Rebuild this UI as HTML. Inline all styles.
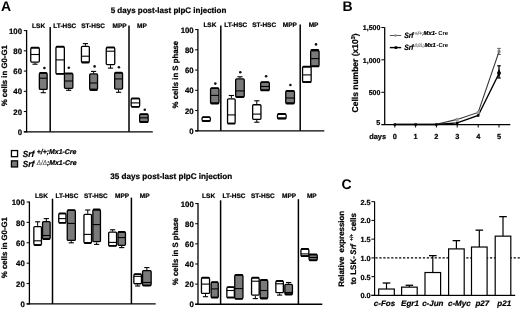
<!DOCTYPE html>
<html><head><meta charset="utf-8"><style>
html,body{margin:0;padding:0;background:#fff;}
body{width:520px;height:310px;overflow:hidden;}
svg{display:block;font-family:"Liberation Sans", sans-serif;filter:grayscale(1);text-rendering:geometricPrecision;}
</style></head><body>
<svg width="520" height="310" viewBox="0 0 520 310">
<rect width="520" height="310" fill="#fff"/>
<text x="1.10" y="11.10" font-size="14" text-anchor="start" font-weight="bold" font-style="normal" fill="#000" stroke="#000" stroke-width="0" >A</text>
<text x="110.70" y="13.10" font-size="8" text-anchor="start" font-weight="bold" font-style="normal" fill="#000" stroke="#000" stroke-width="0.22" >5 days post-last pIpC injection</text>
<text x="110.30" y="179.20" font-size="8.15" text-anchor="start" font-weight="bold" font-style="normal" fill="#000" stroke="#000" stroke-width="0.22" >35 days post-last pIpC injection</text>
<line x1="26.60" y1="30.10" x2="26.60" y2="132.30" stroke="#000" stroke-width="1.3" />
<line x1="23.80" y1="131.80" x2="26.60" y2="131.80" stroke="#000" stroke-width="1.0" />
<text x="22.00" y="134.95" font-size="7.8" text-anchor="end" font-weight="bold" font-style="normal" fill="#000" stroke="#000" stroke-width="0.22" >0</text>
<line x1="23.80" y1="111.56" x2="26.60" y2="111.56" stroke="#000" stroke-width="1.0" />
<text x="22.00" y="114.71" font-size="7.8" text-anchor="end" font-weight="bold" font-style="normal" fill="#000" stroke="#000" stroke-width="0.22" >20</text>
<line x1="23.80" y1="91.32" x2="26.60" y2="91.32" stroke="#000" stroke-width="1.0" />
<text x="22.00" y="94.47" font-size="7.8" text-anchor="end" font-weight="bold" font-style="normal" fill="#000" stroke="#000" stroke-width="0.22" >40</text>
<line x1="23.80" y1="71.08" x2="26.60" y2="71.08" stroke="#000" stroke-width="1.0" />
<text x="22.00" y="74.23" font-size="7.8" text-anchor="end" font-weight="bold" font-style="normal" fill="#000" stroke="#000" stroke-width="0.22" >60</text>
<line x1="23.80" y1="50.84" x2="26.60" y2="50.84" stroke="#000" stroke-width="1.0" />
<text x="22.00" y="53.99" font-size="7.8" text-anchor="end" font-weight="bold" font-style="normal" fill="#000" stroke="#000" stroke-width="0.22" >80</text>
<line x1="23.80" y1="30.60" x2="26.60" y2="30.60" stroke="#000" stroke-width="1.0" />
<text x="22.00" y="33.75" font-size="7.8" text-anchor="end" font-weight="bold" font-style="normal" fill="#000" stroke="#000" stroke-width="0.22" >100</text>
<line x1="23.80" y1="131.80" x2="152.80" y2="131.80" stroke="#000" stroke-width="1.3" />
<line x1="50.20" y1="27.00" x2="50.20" y2="131.80" stroke="#000" stroke-width="1.5" />
<line x1="129.00" y1="25.50" x2="129.00" y2="131.80" stroke="#000" stroke-width="1.5" />
<text x="38.60" y="28.00" font-size="6.5" text-anchor="middle" font-weight="bold" font-style="normal" fill="#000" stroke="#000" stroke-width="0.22" >LSK</text>
<text x="64.80" y="28.00" font-size="6.5" text-anchor="middle" font-weight="bold" font-style="normal" fill="#000" stroke="#000" stroke-width="0.22" >LT-HSC</text>
<text x="93.10" y="28.00" font-size="6.5" text-anchor="middle" font-weight="bold" font-style="normal" fill="#000" stroke="#000" stroke-width="0.22" >ST-HSC</text>
<text x="119.60" y="28.00" font-size="6.5" text-anchor="middle" font-weight="bold" font-style="normal" fill="#000" stroke="#000" stroke-width="0.22" >MPP</text>
<text x="141.90" y="28.00" font-size="6.5" text-anchor="middle" font-weight="bold" font-style="normal" fill="#000" stroke="#000" stroke-width="0.22" >MP</text>
<line x1="35.05" y1="62.70" x2="35.05" y2="64.20" stroke="#000" stroke-width="1.0" />
<line x1="32.45" y1="64.20" x2="37.65" y2="64.20" stroke="#000" stroke-width="1.1" />
<rect x="30.75" y="47.95" width="8.60" height="14.10" rx="1" fill="#fff" stroke="#000" stroke-width="1.3"/>
<rect x="30.60" y="46.80" width="8.90" height="1.80" rx="1.3" fill="#000"/>
<line x1="30.70" y1="54.50" x2="39.40" y2="54.50" stroke="#000" stroke-width="1.1" />
<line x1="43.25" y1="90.10" x2="43.25" y2="92.70" stroke="#000" stroke-width="1.0" />
<line x1="40.65" y1="92.70" x2="45.85" y2="92.70" stroke="#000" stroke-width="1.1" />
<rect x="39.35" y="73.15" width="7.80" height="16.30" rx="1" fill="#7a7a7a" stroke="#000" stroke-width="1.3"/>
<rect x="39.20" y="72.00" width="8.10" height="1.80" rx="1.3" fill="#000"/>
<line x1="39.30" y1="78.20" x2="47.20" y2="78.20" stroke="#000" stroke-width="1.1" />
<rect x="55.95" y="46.95" width="8.40" height="26.70" rx="1" fill="#fff" stroke="#000" stroke-width="1.3"/>
<rect x="55.80" y="45.80" width="8.70" height="1.80" rx="1.3" fill="#000"/>
<rect x="55.80" y="73.00" width="8.70" height="1.80" rx="1.3" fill="#000"/>
<line x1="55.90" y1="59.90" x2="64.40" y2="59.90" stroke="#000" stroke-width="1.1" />
<line x1="68.65" y1="89.00" x2="68.65" y2="90.30" stroke="#000" stroke-width="1.0" />
<line x1="66.05" y1="90.30" x2="71.25" y2="90.30" stroke="#000" stroke-width="1.1" />
<rect x="64.45" y="73.55" width="8.40" height="14.80" rx="1" fill="#7a7a7a" stroke="#000" stroke-width="1.3"/>
<rect x="64.30" y="72.40" width="8.70" height="1.80" rx="1.3" fill="#000"/>
<line x1="64.40" y1="81.00" x2="72.90" y2="81.00" stroke="#000" stroke-width="1.1" />
<line x1="85.40" y1="43.60" x2="85.40" y2="45.80" stroke="#000" stroke-width="1.0" />
<line x1="82.80" y1="43.60" x2="88.00" y2="43.60" stroke="#000" stroke-width="1.1" />
<rect x="81.45" y="46.45" width="7.90" height="15.80" rx="1" fill="#fff" stroke="#000" stroke-width="1.3"/>
<rect x="81.30" y="61.60" width="8.20" height="2.00" rx="1.3" fill="#000"/>
<line x1="81.40" y1="56.20" x2="89.40" y2="56.20" stroke="#000" stroke-width="1.1" />
<line x1="93.60" y1="71.40" x2="93.60" y2="73.30" stroke="#000" stroke-width="1.0" />
<line x1="91.00" y1="71.40" x2="96.20" y2="71.40" stroke="#000" stroke-width="1.1" />
<rect x="89.65" y="73.95" width="7.90" height="15.50" rx="1" fill="#7a7a7a" stroke="#000" stroke-width="1.3"/>
<rect x="89.50" y="88.80" width="8.20" height="2.30" rx="1.3" fill="#000"/>
<line x1="89.60" y1="83.00" x2="97.60" y2="83.00" stroke="#000" stroke-width="1.1" />
<line x1="110.50" y1="65.20" x2="110.50" y2="68.10" stroke="#000" stroke-width="1.0" />
<line x1="107.90" y1="68.10" x2="113.10" y2="68.10" stroke="#000" stroke-width="1.1" />
<rect x="106.25" y="47.65" width="8.50" height="16.90" rx="1" fill="#fff" stroke="#000" stroke-width="1.3"/>
<rect x="106.10" y="46.50" width="8.80" height="1.80" rx="1.3" fill="#000"/>
<line x1="106.20" y1="51.20" x2="114.80" y2="51.20" stroke="#000" stroke-width="1.1" />
<line x1="118.60" y1="89.70" x2="118.60" y2="92.30" stroke="#000" stroke-width="1.0" />
<line x1="116.00" y1="92.30" x2="121.20" y2="92.30" stroke="#000" stroke-width="1.1" />
<rect x="114.65" y="72.85" width="7.90" height="16.20" rx="1" fill="#7a7a7a" stroke="#000" stroke-width="1.3"/>
<rect x="114.50" y="71.70" width="8.20" height="1.80" rx="1.3" fill="#000"/>
<line x1="114.60" y1="78.90" x2="122.60" y2="78.90" stroke="#000" stroke-width="1.1" />
<rect x="131.15" y="98.65" width="8.50" height="7.90" rx="1" fill="#fff" stroke="#000" stroke-width="1.3"/>
<rect x="131.00" y="97.50" width="8.80" height="1.80" rx="1.3" fill="#000"/>
<rect x="131.00" y="105.90" width="8.80" height="1.80" rx="1.3" fill="#000"/>
<line x1="131.10" y1="102.90" x2="139.70" y2="102.90" stroke="#000" stroke-width="1.1" />
<rect x="139.65" y="114.35" width="8.50" height="7.60" rx="1" fill="#7a7a7a" stroke="#000" stroke-width="1.3"/>
<rect x="139.50" y="113.20" width="8.80" height="1.80" rx="1.3" fill="#000"/>
<rect x="139.50" y="121.30" width="8.80" height="1.80" rx="1.3" fill="#000"/>
<line x1="139.60" y1="117.80" x2="148.20" y2="117.80" stroke="#000" stroke-width="1.1" />
<circle cx="44.40" cy="68.00" r="1.3" fill="#111"/>
<circle cx="68.80" cy="67.70" r="1.3" fill="#111"/>
<circle cx="94.60" cy="66.40" r="1.3" fill="#111"/>
<circle cx="118.90" cy="67.30" r="1.3" fill="#111"/>
<circle cx="144.80" cy="109.70" r="1.3" fill="#111"/>
<text transform="translate(7.30,75.70) rotate(-90)" x="0" y="0" font-size="7.8" text-anchor="middle" font-weight="bold" stroke="#000" stroke-width="0.22">% cells in G0-G1</text>
<line x1="197.90" y1="29.10" x2="197.90" y2="131.30" stroke="#000" stroke-width="1.3" />
<line x1="195.10" y1="130.80" x2="197.90" y2="130.80" stroke="#000" stroke-width="1.0" />
<text x="193.70" y="133.95" font-size="7.8" text-anchor="end" font-weight="bold" font-style="normal" fill="#000" stroke="#000" stroke-width="0.22" >0</text>
<line x1="195.10" y1="110.56" x2="197.90" y2="110.56" stroke="#000" stroke-width="1.0" />
<text x="193.70" y="113.71" font-size="7.8" text-anchor="end" font-weight="bold" font-style="normal" fill="#000" stroke="#000" stroke-width="0.22" >20</text>
<line x1="195.10" y1="90.32" x2="197.90" y2="90.32" stroke="#000" stroke-width="1.0" />
<text x="193.70" y="93.47" font-size="7.8" text-anchor="end" font-weight="bold" font-style="normal" fill="#000" stroke="#000" stroke-width="0.22" >40</text>
<line x1="195.10" y1="70.08" x2="197.90" y2="70.08" stroke="#000" stroke-width="1.0" />
<text x="193.70" y="73.23" font-size="7.8" text-anchor="end" font-weight="bold" font-style="normal" fill="#000" stroke="#000" stroke-width="0.22" >60</text>
<line x1="195.10" y1="49.84" x2="197.90" y2="49.84" stroke="#000" stroke-width="1.0" />
<text x="193.70" y="52.99" font-size="7.8" text-anchor="end" font-weight="bold" font-style="normal" fill="#000" stroke="#000" stroke-width="0.22" >80</text>
<line x1="195.10" y1="29.60" x2="197.90" y2="29.60" stroke="#000" stroke-width="1.0" />
<text x="193.70" y="32.75" font-size="7.8" text-anchor="end" font-weight="bold" font-style="normal" fill="#000" stroke="#000" stroke-width="0.22" >100</text>
<line x1="195.10" y1="130.80" x2="324.30" y2="130.80" stroke="#000" stroke-width="1.3" />
<line x1="220.80" y1="25.50" x2="220.80" y2="130.80" stroke="#000" stroke-width="1.5" />
<line x1="300.20" y1="24.40" x2="300.20" y2="130.80" stroke="#000" stroke-width="1.5" />
<text x="209.90" y="27.10" font-size="6.5" text-anchor="middle" font-weight="bold" font-style="normal" fill="#000" stroke="#000" stroke-width="0.22" >LSK</text>
<text x="235.80" y="27.10" font-size="6.5" text-anchor="middle" font-weight="bold" font-style="normal" fill="#000" stroke="#000" stroke-width="0.22" >LT-HSC</text>
<text x="264.20" y="27.10" font-size="6.5" text-anchor="middle" font-weight="bold" font-style="normal" fill="#000" stroke="#000" stroke-width="0.22" >ST-HSC</text>
<text x="289.80" y="27.10" font-size="6.5" text-anchor="middle" font-weight="bold" font-style="normal" fill="#000" stroke="#000" stroke-width="0.22" >MPP</text>
<text x="313.50" y="27.10" font-size="6.5" text-anchor="middle" font-weight="bold" font-style="normal" fill="#000" stroke="#000" stroke-width="0.22" >MP</text>
<rect x="202.05" y="117.35" width="8.30" height="3.50" rx="1" fill="#fff" stroke="#000" stroke-width="1.3"/>
<rect x="201.90" y="116.20" width="8.60" height="1.80" rx="1.3" fill="#000"/>
<rect x="201.90" y="120.20" width="8.60" height="1.80" rx="1.3" fill="#000"/>
<line x1="202.00" y1="121.00" x2="210.40" y2="121.00" stroke="#000" stroke-width="1.1" />
<rect x="210.55" y="88.45" width="8.40" height="14.80" rx="1" fill="#7a7a7a" stroke="#000" stroke-width="1.3"/>
<rect x="210.40" y="87.30" width="8.70" height="1.80" rx="1.3" fill="#000"/>
<rect x="210.40" y="102.60" width="8.70" height="1.80" rx="1.3" fill="#000"/>
<line x1="210.50" y1="95.40" x2="219.00" y2="95.40" stroke="#000" stroke-width="1.1" />
<line x1="231.35" y1="95.50" x2="231.35" y2="98.20" stroke="#000" stroke-width="1.0" />
<line x1="228.75" y1="95.50" x2="233.95" y2="95.50" stroke="#000" stroke-width="1.1" />
<rect x="227.55" y="98.85" width="7.60" height="24.60" rx="1" fill="#fff" stroke="#000" stroke-width="1.3"/>
<rect x="227.40" y="122.80" width="7.90" height="1.80" rx="1.3" fill="#000"/>
<line x1="227.50" y1="114.90" x2="235.20" y2="114.90" stroke="#000" stroke-width="1.1" />
<line x1="239.95" y1="76.80" x2="239.95" y2="78.30" stroke="#000" stroke-width="1.0" />
<line x1="237.35" y1="76.80" x2="242.55" y2="76.80" stroke="#000" stroke-width="1.1" />
<rect x="235.65" y="78.95" width="8.60" height="17.80" rx="1" fill="#7a7a7a" stroke="#000" stroke-width="1.3"/>
<rect x="235.50" y="96.10" width="8.90" height="1.80" rx="1.3" fill="#000"/>
<line x1="235.60" y1="90.90" x2="244.30" y2="90.90" stroke="#000" stroke-width="1.1" />
<line x1="256.80" y1="100.80" x2="256.80" y2="104.10" stroke="#000" stroke-width="1.0" />
<line x1="254.20" y1="100.80" x2="259.40" y2="100.80" stroke="#000" stroke-width="1.1" />
<line x1="256.80" y1="120.00" x2="256.80" y2="122.20" stroke="#000" stroke-width="1.0" />
<line x1="254.20" y1="122.20" x2="259.40" y2="122.20" stroke="#000" stroke-width="1.1" />
<rect x="252.65" y="104.75" width="8.30" height="14.60" rx="1" fill="#fff" stroke="#000" stroke-width="1.3"/>
<line x1="252.60" y1="114.10" x2="261.00" y2="114.10" stroke="#000" stroke-width="1.1" />
<rect x="260.65" y="82.45" width="8.70" height="7.70" rx="1" fill="#7a7a7a" stroke="#000" stroke-width="1.3"/>
<rect x="260.50" y="81.30" width="9.00" height="1.80" rx="1.3" fill="#000"/>
<rect x="260.50" y="89.50" width="9.00" height="1.80" rx="1.3" fill="#000"/>
<line x1="260.60" y1="86.50" x2="269.40" y2="86.50" stroke="#000" stroke-width="1.1" />
<rect x="277.45" y="114.45" width="8.70" height="3.80" rx="1" fill="#fff" stroke="#000" stroke-width="1.3"/>
<rect x="277.30" y="113.10" width="9.00" height="2.00" rx="1.3" fill="#000"/>
<rect x="277.30" y="117.60" width="9.00" height="1.80" rx="1.3" fill="#000"/>
<line x1="277.40" y1="118.60" x2="286.20" y2="118.60" stroke="#000" stroke-width="1.1" />
<rect x="285.75" y="91.05" width="8.70" height="12.20" rx="1" fill="#7a7a7a" stroke="#000" stroke-width="1.3"/>
<rect x="285.60" y="89.90" width="9.00" height="1.80" rx="1.3" fill="#000"/>
<rect x="285.60" y="102.60" width="9.00" height="1.80" rx="1.3" fill="#000"/>
<line x1="285.70" y1="98.00" x2="294.50" y2="98.00" stroke="#000" stroke-width="1.1" />
<rect x="302.55" y="66.85" width="8.60" height="15.10" rx="1" fill="#fff" stroke="#000" stroke-width="1.3"/>
<rect x="302.40" y="65.70" width="8.90" height="1.80" rx="1.3" fill="#000"/>
<rect x="302.40" y="81.30" width="8.90" height="1.80" rx="1.3" fill="#000"/>
<line x1="302.50" y1="74.90" x2="311.20" y2="74.90" stroke="#000" stroke-width="1.1" />
<rect x="310.65" y="50.55" width="8.40" height="15.60" rx="1" fill="#7a7a7a" stroke="#000" stroke-width="1.3"/>
<rect x="310.50" y="48.90" width="8.70" height="2.30" rx="1.3" fill="#000"/>
<rect x="310.50" y="65.50" width="8.70" height="1.80" rx="1.3" fill="#000"/>
<line x1="310.60" y1="58.60" x2="319.10" y2="58.60" stroke="#000" stroke-width="1.1" />
<circle cx="215.30" cy="83.60" r="1.3" fill="#111"/>
<circle cx="240.30" cy="72.20" r="1.3" fill="#111"/>
<circle cx="266.10" cy="76.30" r="1.3" fill="#111"/>
<circle cx="290.40" cy="85.00" r="1.3" fill="#111"/>
<circle cx="316.00" cy="44.40" r="1.3" fill="#111"/>
<text transform="translate(178.10,74.60) rotate(-90)" x="0" y="0" font-size="7.8" text-anchor="middle" font-weight="bold" stroke="#000" stroke-width="0.22">% cells in S phase</text>
<line x1="29.40" y1="201.50" x2="29.40" y2="304.45" stroke="#000" stroke-width="1.3" />
<line x1="26.60" y1="303.95" x2="29.40" y2="303.95" stroke="#000" stroke-width="1.0" />
<text x="24.80" y="307.10" font-size="7.8" text-anchor="end" font-weight="bold" font-style="normal" fill="#000" stroke="#000" stroke-width="0.22" >0</text>
<line x1="26.60" y1="283.56" x2="29.40" y2="283.56" stroke="#000" stroke-width="1.0" />
<text x="24.80" y="286.71" font-size="7.8" text-anchor="end" font-weight="bold" font-style="normal" fill="#000" stroke="#000" stroke-width="0.22" >20</text>
<line x1="26.60" y1="263.17" x2="29.40" y2="263.17" stroke="#000" stroke-width="1.0" />
<text x="24.80" y="266.32" font-size="7.8" text-anchor="end" font-weight="bold" font-style="normal" fill="#000" stroke="#000" stroke-width="0.22" >40</text>
<line x1="26.60" y1="242.78" x2="29.40" y2="242.78" stroke="#000" stroke-width="1.0" />
<text x="24.80" y="245.93" font-size="7.8" text-anchor="end" font-weight="bold" font-style="normal" fill="#000" stroke="#000" stroke-width="0.22" >60</text>
<line x1="26.60" y1="222.39" x2="29.40" y2="222.39" stroke="#000" stroke-width="1.0" />
<text x="24.80" y="225.54" font-size="7.8" text-anchor="end" font-weight="bold" font-style="normal" fill="#000" stroke="#000" stroke-width="0.22" >80</text>
<line x1="26.60" y1="202.00" x2="29.40" y2="202.00" stroke="#000" stroke-width="1.0" />
<text x="24.80" y="205.15" font-size="7.8" text-anchor="end" font-weight="bold" font-style="normal" fill="#000" stroke="#000" stroke-width="0.22" >100</text>
<line x1="26.60" y1="303.95" x2="155.70" y2="303.95" stroke="#000" stroke-width="1.3" />
<line x1="52.50" y1="198.70" x2="52.50" y2="303.95" stroke="#000" stroke-width="1.5" />
<line x1="131.40" y1="197.60" x2="131.40" y2="303.95" stroke="#000" stroke-width="1.5" />
<text x="41.40" y="198.10" font-size="6.5" text-anchor="middle" font-weight="bold" font-style="normal" fill="#000" stroke="#000" stroke-width="0.22" >LSK</text>
<text x="66.90" y="198.10" font-size="6.5" text-anchor="middle" font-weight="bold" font-style="normal" fill="#000" stroke="#000" stroke-width="0.22" >LT-HSC</text>
<text x="95.90" y="198.10" font-size="6.5" text-anchor="middle" font-weight="bold" font-style="normal" fill="#000" stroke="#000" stroke-width="0.22" >ST-HSC</text>
<text x="122.10" y="198.10" font-size="6.5" text-anchor="middle" font-weight="bold" font-style="normal" fill="#000" stroke="#000" stroke-width="0.22" >MPP</text>
<text x="144.70" y="198.10" font-size="6.5" text-anchor="middle" font-weight="bold" font-style="normal" fill="#000" stroke="#000" stroke-width="0.22" >MP</text>
<line x1="37.65" y1="221.80" x2="37.65" y2="225.90" stroke="#000" stroke-width="1.0" />
<line x1="35.05" y1="221.80" x2="40.25" y2="221.80" stroke="#000" stroke-width="1.1" />
<rect x="33.85" y="226.55" width="7.60" height="18.30" rx="1" fill="#fff" stroke="#000" stroke-width="1.3"/>
<rect x="33.70" y="244.20" width="7.90" height="1.80" rx="1.3" fill="#000"/>
<line x1="33.80" y1="240.80" x2="41.50" y2="240.80" stroke="#000" stroke-width="1.1" />
<line x1="46.35" y1="218.60" x2="46.35" y2="221.00" stroke="#000" stroke-width="1.0" />
<line x1="43.75" y1="218.60" x2="48.95" y2="218.60" stroke="#000" stroke-width="1.1" />
<rect x="42.55" y="221.65" width="7.60" height="17.20" rx="1" fill="#7a7a7a" stroke="#000" stroke-width="1.3"/>
<rect x="42.40" y="238.20" width="7.90" height="1.80" rx="1.3" fill="#000"/>
<line x1="42.50" y1="235.50" x2="50.20" y2="235.50" stroke="#000" stroke-width="1.1" />
<rect x="58.75" y="213.65" width="7.20" height="9.00" rx="1" fill="#fff" stroke="#000" stroke-width="1.3"/>
<rect x="58.60" y="212.50" width="7.50" height="1.80" rx="1.3" fill="#000"/>
<rect x="58.60" y="222.00" width="7.50" height="1.80" rx="1.3" fill="#000"/>
<line x1="58.70" y1="218.60" x2="66.00" y2="218.60" stroke="#000" stroke-width="1.1" />
<line x1="71.30" y1="241.10" x2="71.30" y2="242.80" stroke="#000" stroke-width="1.0" />
<line x1="68.70" y1="242.80" x2="73.90" y2="242.80" stroke="#000" stroke-width="1.1" />
<rect x="67.25" y="210.35" width="8.10" height="30.10" rx="1" fill="#7a7a7a" stroke="#000" stroke-width="1.3"/>
<rect x="67.10" y="209.20" width="8.40" height="1.80" rx="1.3" fill="#000"/>
<line x1="67.20" y1="223.40" x2="75.40" y2="223.40" stroke="#000" stroke-width="1.1" />
<line x1="87.75" y1="210.00" x2="87.75" y2="213.80" stroke="#000" stroke-width="1.0" />
<line x1="85.15" y1="210.00" x2="90.35" y2="210.00" stroke="#000" stroke-width="1.1" />
<rect x="83.95" y="214.45" width="7.60" height="28.30" rx="1" fill="#fff" stroke="#000" stroke-width="1.3"/>
<rect x="83.80" y="242.10" width="7.90" height="1.80" rx="1.3" fill="#000"/>
<line x1="83.90" y1="234.40" x2="91.60" y2="234.40" stroke="#000" stroke-width="1.1" />
<line x1="96.65" y1="242.30" x2="96.65" y2="244.40" stroke="#000" stroke-width="1.0" />
<line x1="94.05" y1="244.40" x2="99.25" y2="244.40" stroke="#000" stroke-width="1.1" />
<rect x="92.85" y="209.95" width="7.60" height="31.70" rx="1" fill="#7a7a7a" stroke="#000" stroke-width="1.3"/>
<rect x="92.70" y="208.40" width="7.90" height="2.20" rx="1.3" fill="#000"/>
<line x1="92.80" y1="224.60" x2="100.50" y2="224.60" stroke="#000" stroke-width="1.1" />
<line x1="112.60" y1="229.80" x2="112.60" y2="231.50" stroke="#000" stroke-width="1.0" />
<line x1="110.00" y1="229.80" x2="115.20" y2="229.80" stroke="#000" stroke-width="1.1" />
<rect x="108.65" y="232.15" width="7.90" height="13.50" rx="1" fill="#fff" stroke="#000" stroke-width="1.3"/>
<rect x="108.50" y="245.00" width="8.20" height="1.80" rx="1.3" fill="#000"/>
<line x1="108.60" y1="242.40" x2="116.60" y2="242.40" stroke="#000" stroke-width="1.1" />
<line x1="121.70" y1="246.00" x2="121.70" y2="247.60" stroke="#000" stroke-width="1.0" />
<line x1="119.10" y1="247.60" x2="124.30" y2="247.60" stroke="#000" stroke-width="1.1" />
<rect x="117.95" y="232.15" width="7.50" height="13.20" rx="1" fill="#7a7a7a" stroke="#000" stroke-width="1.3"/>
<rect x="117.80" y="231.00" width="7.80" height="1.80" rx="1.3" fill="#000"/>
<line x1="117.90" y1="237.60" x2="125.50" y2="237.60" stroke="#000" stroke-width="1.1" />
<line x1="137.65" y1="284.40" x2="137.65" y2="286.00" stroke="#000" stroke-width="1.0" />
<line x1="135.05" y1="286.00" x2="140.25" y2="286.00" stroke="#000" stroke-width="1.1" />
<rect x="133.85" y="274.45" width="7.60" height="9.30" rx="1" fill="#fff" stroke="#000" stroke-width="1.3"/>
<rect x="133.70" y="273.30" width="7.90" height="1.80" rx="1.3" fill="#000"/>
<line x1="133.80" y1="276.30" x2="141.50" y2="276.30" stroke="#000" stroke-width="1.1" />
<line x1="146.85" y1="267.60" x2="146.85" y2="270.00" stroke="#000" stroke-width="1.0" />
<line x1="144.25" y1="267.60" x2="149.45" y2="267.60" stroke="#000" stroke-width="1.1" />
<rect x="142.55" y="270.65" width="8.60" height="14.70" rx="1" fill="#7a7a7a" stroke="#000" stroke-width="1.3"/>
<rect x="142.40" y="284.70" width="8.90" height="1.80" rx="1.3" fill="#000"/>
<line x1="142.50" y1="282.50" x2="151.20" y2="282.50" stroke="#000" stroke-width="1.1" />
<text transform="translate(7.30,247.60) rotate(-90)" x="0" y="0" font-size="7.8" text-anchor="middle" font-weight="bold" stroke="#000" stroke-width="0.22">% cells in G0-G1</text>
<line x1="198.00" y1="203.10" x2="198.00" y2="304.75" stroke="#000" stroke-width="1.3" />
<line x1="195.20" y1="304.25" x2="198.00" y2="304.25" stroke="#000" stroke-width="1.0" />
<text x="193.80" y="307.40" font-size="7.8" text-anchor="end" font-weight="bold" font-style="normal" fill="#000" stroke="#000" stroke-width="0.22" >0</text>
<line x1="195.20" y1="284.12" x2="198.00" y2="284.12" stroke="#000" stroke-width="1.0" />
<text x="193.80" y="287.27" font-size="7.8" text-anchor="end" font-weight="bold" font-style="normal" fill="#000" stroke="#000" stroke-width="0.22" >20</text>
<line x1="195.20" y1="263.99" x2="198.00" y2="263.99" stroke="#000" stroke-width="1.0" />
<text x="193.80" y="267.14" font-size="7.8" text-anchor="end" font-weight="bold" font-style="normal" fill="#000" stroke="#000" stroke-width="0.22" >40</text>
<line x1="195.20" y1="243.86" x2="198.00" y2="243.86" stroke="#000" stroke-width="1.0" />
<text x="193.80" y="247.01" font-size="7.8" text-anchor="end" font-weight="bold" font-style="normal" fill="#000" stroke="#000" stroke-width="0.22" >60</text>
<line x1="195.20" y1="223.73" x2="198.00" y2="223.73" stroke="#000" stroke-width="1.0" />
<text x="193.80" y="226.88" font-size="7.8" text-anchor="end" font-weight="bold" font-style="normal" fill="#000" stroke="#000" stroke-width="0.22" >80</text>
<line x1="195.20" y1="203.60" x2="198.00" y2="203.60" stroke="#000" stroke-width="1.0" />
<text x="193.80" y="206.75" font-size="7.8" text-anchor="end" font-weight="bold" font-style="normal" fill="#000" stroke="#000" stroke-width="0.22" >100</text>
<line x1="195.20" y1="304.25" x2="322.30" y2="304.25" stroke="#000" stroke-width="1.3" />
<line x1="220.60" y1="200.30" x2="220.60" y2="304.25" stroke="#000" stroke-width="1.5" />
<line x1="298.40" y1="199.20" x2="298.40" y2="304.25" stroke="#000" stroke-width="1.5" />
<text x="208.60" y="198.10" font-size="6.5" text-anchor="middle" font-weight="bold" font-style="normal" fill="#000" stroke="#000" stroke-width="0.22" >LSK</text>
<text x="234.00" y="198.10" font-size="6.5" text-anchor="middle" font-weight="bold" font-style="normal" fill="#000" stroke="#000" stroke-width="0.22" >LT-HSC</text>
<text x="262.80" y="198.10" font-size="6.5" text-anchor="middle" font-weight="bold" font-style="normal" fill="#000" stroke="#000" stroke-width="0.22" >ST-HSC</text>
<text x="289.10" y="198.10" font-size="6.5" text-anchor="middle" font-weight="bold" font-style="normal" fill="#000" stroke="#000" stroke-width="0.22" >MPP</text>
<text x="311.80" y="198.10" font-size="6.5" text-anchor="middle" font-weight="bold" font-style="normal" fill="#000" stroke="#000" stroke-width="0.22" >MP</text>
<line x1="205.50" y1="294.10" x2="205.50" y2="296.70" stroke="#000" stroke-width="1.0" />
<line x1="202.90" y1="296.70" x2="208.10" y2="296.70" stroke="#000" stroke-width="1.1" />
<rect x="201.45" y="277.95" width="8.10" height="15.50" rx="1" fill="#fff" stroke="#000" stroke-width="1.3"/>
<rect x="201.30" y="276.80" width="8.40" height="1.80" rx="1.3" fill="#000"/>
<line x1="201.40" y1="284.10" x2="209.60" y2="284.10" stroke="#000" stroke-width="1.1" />
<rect x="211.15" y="282.45" width="7.10" height="15.00" rx="1" fill="#7a7a7a" stroke="#000" stroke-width="1.3"/>
<rect x="211.00" y="281.30" width="7.40" height="1.80" rx="1.3" fill="#000"/>
<rect x="211.00" y="296.80" width="7.40" height="1.80" rx="1.3" fill="#000"/>
<line x1="211.10" y1="288.90" x2="218.30" y2="288.90" stroke="#000" stroke-width="1.1" />
<rect x="226.85" y="287.35" width="7.50" height="10.10" rx="1" fill="#fff" stroke="#000" stroke-width="1.3"/>
<rect x="226.70" y="286.20" width="7.80" height="1.80" rx="1.3" fill="#000"/>
<rect x="226.70" y="296.80" width="7.80" height="1.80" rx="1.3" fill="#000"/>
<line x1="226.80" y1="290.50" x2="234.40" y2="290.50" stroke="#000" stroke-width="1.1" />
<rect x="234.75" y="275.05" width="8.20" height="23.50" rx="1" fill="#7a7a7a" stroke="#000" stroke-width="1.3"/>
<rect x="234.60" y="273.90" width="8.50" height="1.80" rx="1.3" fill="#000"/>
<rect x="234.60" y="297.90" width="8.50" height="1.80" rx="1.3" fill="#000"/>
<line x1="234.70" y1="288.60" x2="243.00" y2="288.60" stroke="#000" stroke-width="1.1" />
<line x1="255.35" y1="295.70" x2="255.35" y2="298.60" stroke="#000" stroke-width="1.0" />
<line x1="252.75" y1="298.60" x2="257.95" y2="298.60" stroke="#000" stroke-width="1.1" />
<rect x="251.55" y="277.95" width="7.60" height="17.10" rx="1" fill="#fff" stroke="#000" stroke-width="1.3"/>
<rect x="251.40" y="276.80" width="7.90" height="1.80" rx="1.3" fill="#000"/>
<line x1="251.50" y1="281.20" x2="259.20" y2="281.20" stroke="#000" stroke-width="1.1" />
<rect x="260.15" y="280.35" width="7.60" height="17.90" rx="1" fill="#7a7a7a" stroke="#000" stroke-width="1.3"/>
<rect x="260.00" y="278.90" width="7.90" height="2.10" rx="1.3" fill="#000"/>
<rect x="260.00" y="297.60" width="7.90" height="1.80" rx="1.3" fill="#000"/>
<line x1="260.10" y1="290.50" x2="267.80" y2="290.50" stroke="#000" stroke-width="1.1" />
<line x1="279.60" y1="293.30" x2="279.60" y2="295.10" stroke="#000" stroke-width="1.0" />
<line x1="277.00" y1="295.10" x2="282.20" y2="295.10" stroke="#000" stroke-width="1.1" />
<rect x="275.85" y="281.15" width="7.50" height="11.50" rx="1" fill="#fff" stroke="#000" stroke-width="1.3"/>
<rect x="275.70" y="280.00" width="7.80" height="1.80" rx="1.3" fill="#000"/>
<line x1="275.80" y1="283.80" x2="283.40" y2="283.80" stroke="#000" stroke-width="1.1" />
<line x1="288.65" y1="282.50" x2="288.65" y2="283.80" stroke="#000" stroke-width="1.0" />
<line x1="286.05" y1="282.50" x2="291.25" y2="282.50" stroke="#000" stroke-width="1.1" />
<rect x="284.85" y="284.45" width="7.60" height="9.80" rx="1" fill="#7a7a7a" stroke="#000" stroke-width="1.3"/>
<rect x="284.70" y="293.60" width="7.90" height="1.80" rx="1.3" fill="#000"/>
<line x1="284.80" y1="292.50" x2="292.50" y2="292.50" stroke="#000" stroke-width="1.1" />
<rect x="300.95" y="249.15" width="7.90" height="6.80" rx="1" fill="#fff" stroke="#000" stroke-width="1.3"/>
<rect x="300.80" y="248.00" width="8.20" height="1.80" rx="1.3" fill="#000"/>
<rect x="300.80" y="255.30" width="8.20" height="1.80" rx="1.3" fill="#000"/>
<line x1="300.90" y1="253.90" x2="308.90" y2="253.90" stroke="#000" stroke-width="1.1" />
<rect x="309.05" y="254.55" width="8.20" height="5.50" rx="1" fill="#7a7a7a" stroke="#000" stroke-width="1.3"/>
<rect x="308.90" y="253.40" width="8.50" height="1.80" rx="1.3" fill="#000"/>
<rect x="308.90" y="259.40" width="8.50" height="1.80" rx="1.3" fill="#000"/>
<line x1="309.00" y1="257.50" x2="317.30" y2="257.50" stroke="#000" stroke-width="1.1" />
<text transform="translate(178.10,251.40) rotate(-90)" x="0" y="0" font-size="7.8" text-anchor="middle" font-weight="bold" stroke="#000" stroke-width="0.22">% cells in S phase</text>
<rect x="11.45" y="150.55" width="6.1" height="6.1" fill="#fff" stroke="#000" stroke-width="1.3"/>
<rect x="11.45" y="160.85" width="6.1" height="6.1" fill="#7a7a7a" stroke="#000" stroke-width="1.3"/>
<text x="22.80" y="156.50" font-size="8.8" text-anchor="start" font-weight="bold" font-style="italic" fill="#000" stroke="#000" stroke-width="0.22" textLength="11.4" lengthAdjust="spacingAndGlyphs">Srf</text>
<text x="36.80" y="154.30" font-size="7.0" text-anchor="start" font-weight="bold" font-style="italic" fill="#000" stroke="#000" stroke-width="0.22" textLength="39.6" lengthAdjust="spacingAndGlyphs">+/+;Mx1-Cre</text>
<text x="22.80" y="167.00" font-size="8.8" text-anchor="start" font-weight="bold" font-style="italic" fill="#000" stroke="#000" stroke-width="0.22" textLength="11.4" lengthAdjust="spacingAndGlyphs">Srf</text>
<text x="36.8" y="164.6" font-size="7" font-style="italic" font-weight="normal" fill="#555" stroke="#555" stroke-width="0.15" textLength="10" lengthAdjust="spacingAndGlyphs">&#916;/&#916;</text>
<text x="46.90" y="164.60" font-size="7.0" text-anchor="start" font-weight="bold" font-style="italic" fill="#000" stroke="#000" stroke-width="0.22" textLength="29.6" lengthAdjust="spacingAndGlyphs">;Mx1-Cre</text>
<text x="342.60" y="10.90" font-size="14" text-anchor="start" font-weight="bold" font-style="normal" fill="#000" stroke="#000" stroke-width="0" >B</text>
<line x1="384.70" y1="27.20" x2="384.70" y2="124.60" stroke="#000" stroke-width="1.25" />
<line x1="381.30" y1="27.50" x2="384.50" y2="27.50" stroke="#000" stroke-width="1.0" />
<text x="380.40" y="30.35" font-size="7.0" text-anchor="end" font-weight="bold" font-style="normal" fill="#000" stroke="#000" stroke-width="0.22" >1,500</text>
<line x1="381.30" y1="59.80" x2="384.50" y2="59.80" stroke="#000" stroke-width="1.0" />
<text x="380.40" y="62.65" font-size="7.0" text-anchor="end" font-weight="bold" font-style="normal" fill="#000" stroke="#000" stroke-width="0.22" >1,000</text>
<line x1="381.30" y1="92.30" x2="384.50" y2="92.30" stroke="#000" stroke-width="1.0" />
<text x="380.40" y="95.15" font-size="7.0" text-anchor="end" font-weight="bold" font-style="normal" fill="#000" stroke="#000" stroke-width="0.22" >500</text>
<text x="380.30" y="124.80" font-size="7.2" text-anchor="end" font-weight="bold" font-style="normal" fill="#000" stroke="#000" stroke-width="0.22" >5</text>
<line x1="381.30" y1="124.60" x2="510.30" y2="124.60" stroke="#000" stroke-width="1.3" />
<line x1="394.80" y1="124.60" x2="394.80" y2="127.50" stroke="#000" stroke-width="1.0" />
<text x="394.80" y="138.60" font-size="7.4" text-anchor="middle" font-weight="bold" font-style="normal" fill="#000" stroke="#000" stroke-width="0.22" >0</text>
<line x1="415.60" y1="124.60" x2="415.60" y2="127.50" stroke="#000" stroke-width="1.0" />
<text x="415.60" y="138.60" font-size="7.4" text-anchor="middle" font-weight="bold" font-style="normal" fill="#000" stroke="#000" stroke-width="0.22" >1</text>
<line x1="436.40" y1="124.60" x2="436.40" y2="127.50" stroke="#000" stroke-width="1.0" />
<text x="436.40" y="138.60" font-size="7.4" text-anchor="middle" font-weight="bold" font-style="normal" fill="#000" stroke="#000" stroke-width="0.22" >2</text>
<line x1="457.20" y1="124.60" x2="457.20" y2="127.50" stroke="#000" stroke-width="1.0" />
<text x="457.20" y="138.60" font-size="7.4" text-anchor="middle" font-weight="bold" font-style="normal" fill="#000" stroke="#000" stroke-width="0.22" >3</text>
<line x1="478.20" y1="124.60" x2="478.20" y2="127.50" stroke="#000" stroke-width="1.0" />
<text x="478.20" y="138.60" font-size="7.4" text-anchor="middle" font-weight="bold" font-style="normal" fill="#000" stroke="#000" stroke-width="0.22" >4</text>
<line x1="499.00" y1="124.60" x2="499.00" y2="127.50" stroke="#000" stroke-width="1.0" />
<text x="499.00" y="138.60" font-size="7.4" text-anchor="middle" font-weight="bold" font-style="normal" fill="#000" stroke="#000" stroke-width="0.22" >5</text>
<text x="386.10" y="138.60" font-size="7.4" text-anchor="end" font-weight="bold" font-style="normal" fill="#000" stroke="#000" stroke-width="0.22" >days</text>
<polyline points="394.8,124.4 415.6,124.4 436.4,124.2 457.2,119.4 478.2,112.4 499.0,51.6" fill="none" stroke="#333" stroke-width="1.1"/>
<polyline points="394.8,124.5 415.6,124.5 436.4,124.5 457.2,122.9 478.2,115.5 499.0,73.5" fill="none" stroke="#000" stroke-width="1.4"/>
<rect x="393.60" y="123.30" width="2.4" height="2.4" fill="#000"/>
<rect x="414.40" y="123.30" width="2.4" height="2.4" fill="#000"/>
<rect x="435.20" y="123.30" width="2.4" height="2.4" fill="#000"/>
<rect x="456.00" y="121.70" width="2.4" height="2.4" fill="#000"/>
<rect x="477.00" y="114.30" width="2.4" height="2.4" fill="#000"/>
<rect x="497.80" y="72.30" width="2.4" height="2.4" fill="#000"/>
<rect x="455.70" y="117.90" width="3" height="3" fill="#999"/>
<rect x="476.70" y="110.90" width="3" height="3" fill="#999"/>
<rect x="497.50" y="50.10" width="3" height="3" fill="#999"/>
<line x1="499.00" y1="48.40" x2="499.00" y2="54.50" stroke="#555" stroke-width="0.9" />
<line x1="497.20" y1="48.40" x2="500.80" y2="48.40" stroke="#555" stroke-width="0.9" />
<line x1="497.20" y1="54.50" x2="500.80" y2="54.50" stroke="#555" stroke-width="0.9" />
<line x1="499.00" y1="65.80" x2="499.00" y2="78.00" stroke="#000" stroke-width="1.3" />
<line x1="497.20" y1="65.80" x2="500.80" y2="65.80" stroke="#000" stroke-width="1.2" />
<line x1="497.20" y1="78.00" x2="500.80" y2="78.00" stroke="#000" stroke-width="1.2" />
<path d="M499,69 L501,73 L499,77 L497,73 Z" fill="#000"/>
<line x1="389.80" y1="35.50" x2="401.20" y2="35.50" stroke="#555" stroke-width="1.0" />
<circle cx="395.5" cy="35.5" r="1.2" fill="#888"/>
<line x1="389.80" y1="47.60" x2="401.20" y2="47.60" stroke="#000" stroke-width="1.4" />
<rect x="394.6" y="46.3" width="2.6" height="2.6" fill="#000"/>
<text x="404.20" y="37.60" font-size="7.8" text-anchor="start" font-weight="bold" font-style="italic" fill="#000" stroke="#000" stroke-width="0.22" textLength="9.4" lengthAdjust="spacingAndGlyphs">Srf</text>
<text x="414.60" y="35.00" font-size="5.2" text-anchor="start" font-weight="bold" font-style="italic" fill="#888" stroke="#888" stroke-width="0.22" >+/+;</text>
<text x="423.60" y="35.00" font-size="5.8" text-anchor="start" font-weight="bold" font-style="italic" fill="#000" stroke="#000" stroke-width="0.22" >Mx1-</text>
<text x="438.30" y="35.00" font-size="5.8" text-anchor="start" font-weight="bold" font-style="normal" fill="#000" stroke="#000" stroke-width="0" >Cre</text>
<text x="404.20" y="50.20" font-size="7.8" text-anchor="start" font-weight="bold" font-style="italic" fill="#000" stroke="#000" stroke-width="0.22" textLength="9.4" lengthAdjust="spacingAndGlyphs">Srf</text>
<text x="414.20" y="46.80" font-size="5.2" text-anchor="start" font-weight="bold" font-style="italic" fill="#999" stroke="#999" stroke-width="0.22" >&#916;/&#916;;</text>
<text x="424.50" y="46.80" font-size="5.8" text-anchor="start" font-weight="bold" font-style="italic" fill="#000" stroke="#000" stroke-width="0.22" >Mx1</text>
<text x="436.50" y="46.80" font-size="5.8" text-anchor="start" font-weight="bold" font-style="normal" fill="#000" stroke="#000" stroke-width="0" >-Cre</text>
<text transform="translate(358.3,72.9) rotate(-90)" x="0" y="0" font-size="8.5" text-anchor="middle" font-weight="bold" stroke="#000" stroke-width="0.22">Cells number (x10<tspan font-size="5.5" dy="-3.6">3</tspan><tspan dy="3.6">)</tspan></text>
<text x="341.60" y="188.60" font-size="14" text-anchor="start" font-weight="bold" font-style="normal" fill="#000" stroke="#000" stroke-width="0" >C</text>
<line x1="374.60" y1="201.50" x2="374.60" y2="295.40" stroke="#000" stroke-width="1.15" />
<line x1="371.40" y1="295.40" x2="374.60" y2="295.40" stroke="#000" stroke-width="1.0" />
<text x="370.60" y="298.30" font-size="7.3" text-anchor="end" font-weight="bold" font-style="normal" fill="#000" stroke="#000" stroke-width="0.22" >0.0</text>
<line x1="371.40" y1="276.65" x2="374.60" y2="276.65" stroke="#000" stroke-width="1.0" />
<text x="370.60" y="279.55" font-size="7.3" text-anchor="end" font-weight="bold" font-style="normal" fill="#000" stroke="#000" stroke-width="0.22" >0.5</text>
<line x1="371.40" y1="257.90" x2="374.60" y2="257.90" stroke="#000" stroke-width="1.0" />
<text x="370.60" y="260.80" font-size="7.3" text-anchor="end" font-weight="bold" font-style="normal" fill="#000" stroke="#000" stroke-width="0.22" >1.0</text>
<line x1="371.40" y1="239.15" x2="374.60" y2="239.15" stroke="#000" stroke-width="1.0" />
<text x="370.60" y="242.05" font-size="7.3" text-anchor="end" font-weight="bold" font-style="normal" fill="#000" stroke="#000" stroke-width="0.22" >1.5</text>
<line x1="371.40" y1="220.40" x2="374.60" y2="220.40" stroke="#000" stroke-width="1.0" />
<text x="370.60" y="223.30" font-size="7.3" text-anchor="end" font-weight="bold" font-style="normal" fill="#000" stroke="#000" stroke-width="0.22" >2.0</text>
<line x1="371.40" y1="201.65" x2="374.60" y2="201.65" stroke="#000" stroke-width="1.0" />
<text x="370.60" y="204.55" font-size="7.3" text-anchor="end" font-weight="bold" font-style="normal" fill="#000" stroke="#000" stroke-width="0.22" >2.5</text>
<line x1="371.40" y1="295.40" x2="515.20" y2="295.40" stroke="#000" stroke-width="1.3" />
<line x1="375.40" y1="257.80" x2="520.00" y2="257.80" stroke="#000" stroke-width="1.15" stroke-dasharray="2.2 1.75"/>
<line x1="386.50" y1="289.02" x2="386.50" y2="283.02" stroke="#000" stroke-width="1.2" />
<line x1="382.70" y1="283.02" x2="390.30" y2="283.02" stroke="#000" stroke-width="1.3" />
<rect x="378.70" y="289.02" width="15.6" height="6.38" fill="#fff" stroke="#000" stroke-width="1.2"/>
<text x="384.50" y="306.20" font-size="8" text-anchor="middle" font-weight="bold" font-style="italic" fill="#000" stroke="#000" stroke-width="0.22" >c-Fos</text>
<line x1="409.40" y1="287.15" x2="409.40" y2="285.27" stroke="#000" stroke-width="1.2" />
<line x1="405.60" y1="285.27" x2="413.20" y2="285.27" stroke="#000" stroke-width="1.3" />
<rect x="401.60" y="287.15" width="15.6" height="8.25" fill="#fff" stroke="#000" stroke-width="1.2"/>
<text x="410.00" y="306.20" font-size="8" text-anchor="middle" font-weight="bold" font-style="italic" fill="#000" stroke="#000" stroke-width="0.22" >Egr1</text>
<line x1="432.80" y1="272.52" x2="432.80" y2="255.65" stroke="#000" stroke-width="1.2" />
<line x1="429.00" y1="255.65" x2="436.60" y2="255.65" stroke="#000" stroke-width="1.3" />
<rect x="425.00" y="272.52" width="15.6" height="22.88" fill="#fff" stroke="#000" stroke-width="1.2"/>
<text x="432.80" y="306.20" font-size="8" text-anchor="middle" font-weight="bold" font-style="italic" fill="#000" stroke="#000" stroke-width="0.22" >c-Jun</text>
<line x1="456.40" y1="248.90" x2="456.40" y2="240.65" stroke="#000" stroke-width="1.2" />
<line x1="452.60" y1="240.65" x2="460.20" y2="240.65" stroke="#000" stroke-width="1.3" />
<rect x="448.60" y="248.90" width="15.6" height="46.50" fill="#fff" stroke="#000" stroke-width="1.2"/>
<text x="459.30" y="306.20" font-size="8" text-anchor="middle" font-weight="bold" font-style="italic" fill="#000" stroke="#000" stroke-width="0.22" >c-Myc</text>
<line x1="479.30" y1="247.02" x2="479.30" y2="230.15" stroke="#000" stroke-width="1.2" />
<line x1="475.50" y1="230.15" x2="483.10" y2="230.15" stroke="#000" stroke-width="1.3" />
<rect x="471.50" y="247.02" width="15.6" height="48.38" fill="#fff" stroke="#000" stroke-width="1.2"/>
<text x="482.30" y="306.20" font-size="8" text-anchor="middle" font-weight="bold" font-style="italic" fill="#000" stroke="#000" stroke-width="0.22" >p27</text>
<line x1="503.00" y1="236.15" x2="503.00" y2="216.65" stroke="#000" stroke-width="1.2" />
<line x1="499.20" y1="216.65" x2="506.80" y2="216.65" stroke="#000" stroke-width="1.3" />
<rect x="495.20" y="236.15" width="15.6" height="59.25" fill="#fff" stroke="#000" stroke-width="1.2"/>
<text x="504.20" y="306.20" font-size="8" text-anchor="middle" font-weight="bold" font-style="italic" fill="#000" stroke="#000" stroke-width="0.22" >p21</text>
<g transform="translate(343.6,286.8) rotate(-90)"><text x="0" y="0" font-size="7.9" font-weight="bold" stroke="#000" stroke-width="0.22">Relative</text><text x="76.0" y="0" font-size="7.9" text-anchor="end" font-weight="bold" stroke="#000" stroke-width="0.22">expression</text></g>
<g transform="translate(356.4,284.6) rotate(-90)"><text x="0" y="0" font-size="8" font-weight="bold" stroke="#000" stroke-width="0.22"><tspan x="0">to LSK-</tspan><tspan x="29.9" font-style="italic" textLength="10.6" lengthAdjust="spacingAndGlyphs">Srf</tspan><tspan x="43.8" font-size="4.8" dy="-3.2">+/+</tspan><tspan x="53.8" dy="3.2">cells</tspan></text></g>
</svg>
</body></html>
